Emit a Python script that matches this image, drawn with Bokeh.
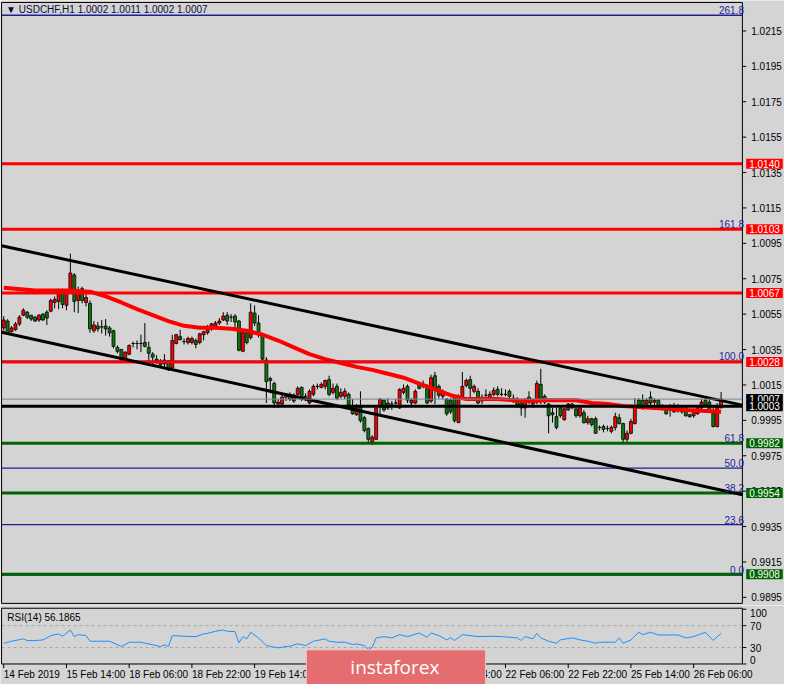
from bokeh.plotting import figure
from bokeh.models import Range1d, Label
from bokeh.layouts import column
from bokeh.embed import file_html
from bokeh.resources import INLINE
from bokeh.core.properties import value

# ---------------- data (USDCHF H1) ----------------
opens = [
1.00472, 1.00511, 1.00451, 1.00462, 1.00495, 1.00544, 1.00561, 1.00544, 1.00533, 1.00517,
1.00550, 1.00561, 1.00567, 1.00616, 1.00622, 1.00683, 1.00600, 1.00677, 1.00771, 1.00627,
1.00694, 1.00616, 1.00611, 1.00456, 1.00483, 1.00478, 1.00483, 1.00472, 1.00456, 1.00362,
1.00351, 1.00296, 1.00324, 1.00384, 1.00384, 1.00384, 1.00390, 1.00362, 1.00324, 1.00296,
1.00285, 1.00291, 1.00285, 1.00246, 1.00384, 1.00423, 1.00395, 1.00390, 1.00390, 1.00401,
1.00390, 1.00434, 1.00445, 1.00467, 1.00483, 1.00500, 1.00517, 1.00544, 1.00533, 1.00539,
1.00511, 1.00340, 1.00445, 1.00418, 1.00556, 1.00500, 1.00434, 1.00291, 1.00186, 1.00158,
1.00042, 1.00042, 1.00081, 1.00097, 1.00059, 1.00097, 1.00136, 1.00086, 1.00048, 1.00097,
1.00142, 1.00136, 1.00142, 1.00180, 1.00108, 1.00142, 1.00086, 1.00086, 1.00097, 1.00031,
0.99982, 1.00026, 0.99965, 0.99904, 0.99827, 0.99843, 1.00026, 1.00064, 1.00048, 1.00042,
1.00048, 1.00020, 1.00108, 1.00142, 1.00048, 1.00048, 1.00153, 1.00142, 1.00131, 1.00059,
1.00202, 1.00142, 1.00086, 1.00070, 1.00064, 1.00075, 0.99937, 1.00086, 1.00147, 1.00180,
1.00114, 1.00114, 1.00059, 1.00092, 1.00075, 1.00097, 1.00125, 1.00097, 1.00097, 1.00114,
1.00075, 1.00070, 1.00048, 1.00020, 1.00081, 1.00042, 1.00053, 1.00153, 1.00086, 1.00042,
0.99993, 0.99971, 1.00020, 0.99954, 1.00009, 1.00042, 1.00015, 0.99976, 0.99993, 0.99937,
0.99959, 0.99959, 0.99910, 0.99915, 0.99904, 0.99888, 0.99910, 0.99965, 0.99932, 0.99843,
0.99877, 0.99932, 1.00064, 1.00064, 1.00042, 1.00081, 1.00053, 1.00064, 1.00026, 1.00020,
1.00026, 0.99998, 1.00004, 1.00020, 1.00020, 0.99982, 0.99976, 0.99987, 1.00020, 1.00064,
1.00053, 0.99993, 0.99915, 1.00020]
highs = [
1.00539, 1.00522, 1.00483, 1.00506, 1.00544, 1.00583, 1.00567, 1.00544, 1.00539, 1.00550,
1.00556, 1.00572, 1.00638, 1.00650, 1.00694, 1.00694, 1.00683, 1.00892, 1.00782, 1.00705,
1.00705, 1.00666, 1.00627, 1.00511, 1.00506, 1.00517, 1.00522, 1.00483, 1.00462, 1.00373,
1.00351, 1.00340, 1.00379, 1.00395, 1.00401, 1.00434, 1.00500, 1.00395, 1.00335, 1.00318,
1.00296, 1.00324, 1.00291, 1.00434, 1.00439, 1.00462, 1.00412, 1.00423, 1.00423, 1.00412,
1.00445, 1.00456, 1.00489, 1.00500, 1.00511, 1.00528, 1.00561, 1.00561, 1.00550, 1.00550,
1.00517, 1.00456, 1.00462, 1.00611, 1.00600, 1.00544, 1.00445, 1.00307, 1.00197, 1.00169,
1.00070, 1.00097, 1.00103, 1.00108, 1.00103, 1.00142, 1.00142, 1.00103, 1.00125, 1.00153,
1.00158, 1.00164, 1.00180, 1.00202, 1.00158, 1.00158, 1.00131, 1.00131, 1.00108, 1.00070,
1.00042, 1.00114, 0.99976, 0.99910, 0.99866, 1.00031, 1.00075, 1.00070, 1.00075, 1.00059,
1.00070, 1.00131, 1.00153, 1.00153, 1.00075, 1.00125, 1.00164, 1.00175, 1.00153, 1.00208,
1.00224, 1.00153, 1.00125, 1.00075, 1.00075, 1.00086, 1.00097, 1.00224, 1.00186, 1.00202,
1.00153, 1.00131, 1.00097, 1.00125, 1.00114, 1.00136, 1.00142, 1.00131, 1.00125, 1.00125,
1.00097, 1.00081, 1.00070, 1.00075, 1.00114, 1.00075, 1.00175, 1.00241, 1.00097, 1.00048,
1.00020, 1.00020, 1.00031, 1.00020, 1.00048, 1.00048, 1.00026, 1.00026, 1.00009, 0.99976,
0.99965, 0.99971, 0.99921, 0.99926, 0.99921, 0.99921, 0.99993, 0.99987, 0.99937, 0.99893,
0.99959, 1.00075, 1.00075, 1.00097, 1.00075, 1.00114, 1.00075, 1.00070, 1.00042, 1.00031,
1.00042, 1.00048, 1.00042, 1.00031, 1.00026, 0.99987, 1.00015, 1.00026, 1.00070, 1.00081,
1.00070, 1.00026, 1.00048, 1.00110]
lows = [
1.00456, 1.00440, 1.00445, 1.00456, 1.00483, 1.00539, 1.00522, 1.00511, 1.00506, 1.00506,
1.00511, 1.00489, 1.00561, 1.00583, 1.00578, 1.00583, 1.00572, 1.00666, 1.00561, 1.00556,
1.00611, 1.00594, 1.00445, 1.00445, 1.00451, 1.00440, 1.00429, 1.00423, 1.00357, 1.00329,
1.00280, 1.00291, 1.00318, 1.00362, 1.00351, 1.00335, 1.00362, 1.00280, 1.00269, 1.00269,
1.00252, 1.00241, 1.00229, 1.00235, 1.00379, 1.00401, 1.00379, 1.00379, 1.00379, 1.00357,
1.00379, 1.00401, 1.00434, 1.00456, 1.00467, 1.00489, 1.00511, 1.00489, 1.00506, 1.00467,
1.00340, 1.00335, 1.00379, 1.00406, 1.00483, 1.00418, 1.00280, 1.00048, 1.00103, 1.00020,
1.00020, 1.00037, 1.00059, 1.00059, 1.00048, 1.00075, 1.00059, 1.00059, 1.00042, 1.00086,
1.00125, 1.00131, 1.00125, 1.00086, 1.00097, 1.00064, 1.00075, 1.00070, 1.00026, 0.99982,
0.99976, 0.99937, 0.99882, 0.99827, 0.99810, 0.99838, 0.99987, 0.99998, 1.00009, 1.00009,
1.00020, 1.00015, 1.00097, 1.00048, 1.00037, 1.00042, 1.00125, 1.00131, 1.00042, 1.00048,
1.00042, 1.00075, 1.00070, 0.99976, 0.99987, 0.99937, 0.99937, 1.00075, 1.00136, 1.00075,
1.00103, 1.00042, 1.00042, 1.00075, 1.00059, 1.00086, 1.00086, 1.00086, 1.00086, 1.00075,
1.00048, 1.00020, 0.99976, 0.99965, 1.00042, 1.00020, 1.00042, 1.00042, 1.00042, 0.99877,
0.99937, 0.99899, 0.99965, 0.99948, 1.00004, 1.00015, 0.99965, 0.99965, 0.99932, 0.99926,
0.99915, 0.99877, 0.99893, 0.99882, 0.99888, 0.99877, 0.99893, 0.99926, 0.99822, 0.99822,
0.99871, 0.99926, 1.00015, 1.00009, 1.00031, 1.00031, 1.00037, 1.00015, 1.00004, 0.99982,
0.99971, 0.99993, 0.99993, 0.99987, 0.99971, 0.99965, 0.99965, 0.99982, 1.00009, 1.00026,
0.99993, 0.99910, 0.99910, 1.00020]
closes = [
1.00517, 1.00445, 1.00472, 1.00495, 1.00533, 1.00572, 1.00533, 1.00522, 1.00511, 1.00544,
1.00517, 1.00528, 1.00627, 1.00633, 1.00672, 1.00605, 1.00672, 1.00782, 1.00622, 1.00677,
1.00627, 1.00644, 1.00467, 1.00489, 1.00467, 1.00478, 1.00467, 1.00445, 1.00368, 1.00340,
1.00291, 1.00335, 1.00373, 1.00384, 1.00384, 1.00384, 1.00368, 1.00329, 1.00307, 1.00285,
1.00263, 1.00269, 1.00235, 1.00401, 1.00434, 1.00406, 1.00395, 1.00412, 1.00412, 1.00379,
1.00439, 1.00451, 1.00473, 1.00495, 1.00500, 1.00511, 1.00539, 1.00511, 1.00533, 1.00506,
1.00346, 1.00445, 1.00390, 1.00561, 1.00500, 1.00434, 1.00296, 1.00169, 1.00175, 1.00048,
1.00053, 1.00081, 1.00097, 1.00070, 1.00092, 1.00131, 1.00075, 1.00086, 1.00114, 1.00142,
1.00142, 1.00153, 1.00175, 1.00097, 1.00131, 1.00075, 1.00108, 1.00114, 1.00037, 0.99987,
1.00020, 0.99948, 0.99893, 0.99843, 0.99855, 1.00020, 1.00070, 1.00009, 1.00020, 1.00042,
1.00048, 1.00125, 1.00131, 1.00064, 1.00064, 1.00114, 1.00131, 1.00153, 1.00048, 1.00191,
1.00125, 1.00092, 1.00103, 0.99987, 0.99998, 0.99948, 1.00081, 1.00142, 1.00175, 1.00131,
1.00142, 1.00048, 1.00081, 1.00092, 1.00097, 1.00120, 1.00097, 1.00097, 1.00097, 1.00086,
1.00064, 1.00037, 1.00020, 1.00070, 1.00053, 1.00059, 1.00158, 1.00075, 1.00053, 0.99976,
0.99982, 0.99910, 0.99976, 1.00015, 1.00042, 1.00020, 0.99976, 1.00020, 0.99937, 0.99959,
0.99926, 0.99877, 0.99910, 0.99899, 0.99904, 0.99910, 0.99971, 0.99932, 0.99843, 0.99877,
0.99943, 1.00031, 1.00037, 1.00020, 1.00064, 1.00048, 1.00064, 1.00020, 1.00015, 0.99987,
1.00009, 1.00026, 1.00020, 0.99998, 0.99976, 0.99971, 1.00004, 1.00020, 1.00053, 1.00037,
1.00004, 0.99915, 1.00026, 1.00070]

# moving average (red) read at selected bars
ma_idx = [0, 8, 16, 22, 26, 30, 34, 38, 42, 46, 50, 54, 58, 62, 66, 70, 74, 78, 82, 86, 90,
          94, 98, 102, 106, 110, 114, 118, 122, 126, 130, 134, 138, 142, 146, 150, 154, 158,
          162, 166, 170, 174, 178, 183]
ma_vals = [1.00699, 1.00683, 1.00683, 1.00677, 1.00650, 1.00616, 1.00578, 1.00545, 1.00511,
           1.00484, 1.00473, 1.00473, 1.00467, 1.00456, 1.00434, 1.00401, 1.00362, 1.00324,
           1.00296, 1.00274, 1.00252, 1.00235, 1.00213, 1.00191, 1.00158, 1.00125, 1.00092,
           1.00070, 1.00070, 1.00070, 1.00064, 1.00059, 1.00064, 1.00064, 1.00064, 1.00048,
           1.00042, 1.00031, 1.00026, 1.00020, 1.00015, 1.00009, 1.00004, 0.99998]

# RSI(14) read at selected bars
rsi_idx = [0, 1, 2, 5, 6, 8, 10, 12, 14, 15, 17, 18, 19, 21, 22, 24, 27, 30, 32, 35, 37, 40,
           41, 42, 43, 46, 49, 51, 52, 54, 56, 57, 59, 60, 61, 62, 63, 65, 67, 70, 72, 73, 75,
           77, 79, 82, 83, 85, 87, 89, 90, 92, 93, 94, 95, 97, 99, 101, 103, 106, 108, 109,
           111, 113, 114, 115, 117, 121, 124, 127, 131, 132, 133, 135, 136, 137, 139, 141,
           142, 145, 147, 149, 151, 152, 156, 157, 158, 160, 162, 163, 165, 167, 170, 172,
           174, 176, 179, 181, 183]
rsi_vals = [37.9, 39.7, 41.5, 45.8, 42.7, 42.7, 43.9, 51.8, 54.8, 50.6, 62.1, 50.0, 53.6, 51.8,
            41.5, 41.5, 41.5, 31.8, 39.7, 39.7, 36.7, 31.8, 34.8, 31.8, 51.8, 50.6, 50.0, 54.8,
            56.0, 59.7, 62.1, 59.7, 59.1, 38.5, 50.0, 45.8, 57.9, 47.6, 33.6, 29.4, 31.8, 32.4,
            36.7, 33.6, 41.5, 45.8, 41.5, 39.7, 39.7, 35.5, 36.7, 33.6, 26.4, 30.6, 47.6, 50.0,
            47.6, 53.6, 50.0, 56.6, 48.8, 56.6, 51.8, 44.0, 47.7, 42.9, 53.6, 50.0, 50.6, 50.0,
            47.6, 42.9, 50.0, 45.8, 55.9, 47.6, 41.5, 37.9, 44.0, 47.6, 44.0, 41.5, 37.9, 39.7,
            39.7, 47.6, 37.9, 44.0, 57.9, 53.6, 57.9, 53.0, 53.0, 53.0, 47.6, 50.0, 57.9, 42.9,
            56.1865]

# horizontal levels
red_levels = [1.0140, 1.0103, 1.0067, 1.0028]
green_levels = [0.9982, 0.9954, 0.9908]
black_level = 1.0003

# Fibonacci retracement anchors and ratios
fib_low, fib_high = 0.99076, 1.00284
fib_ratios = [0.0, 23.6, 38.2, 50.0, 61.8, 100.0, 161.8, 261.8]

# channel anchors (bar index, price)
upper_channel = [(0, 1.00934), (183, 1.00062)]
lower_channel = [(0, 1.00445), (183, 0.99556)]

price_ticks = [0.9895, 0.9915, 0.9935, 0.9955, 0.9975, 0.9995, 1.0015, 1.0035, 1.0055,
               1.0075, 1.0095, 1.0115, 1.0135, 1.0155, 1.0175, 1.0195, 1.0215]
rsi_ticks = [0, 30, 70, 100]
rsi_levels = [30, 70]
date_tick_idx = [0, 16, 32, 48, 64, 80, 96, 112, 128, 144, 160, 176]
date_labels = ["14 Feb 2019", "15 Feb 14:00", "18 Feb 06:00", "18 Feb 22:00", "19 Feb 14:00",
               "20 Feb 06:00", "20 Feb 22:00", "21 Feb 14:00", "22 Feb 06:00", "22 Feb 22:00",
               "25 Feb 14:00", "26 Feb 06:00"]

# ---------------- styling / panel geometry (in data units) ----------------
BG = "#d4d4d4"
FONT = "Liberation Sans"
BULL = "#ff0000"
BEAR = "#0b7a0b"
RED = "#ff0000"
GREEN = "#006400"
NAVY = "#1f1f96"
FS = value("10px")
FF = value(FONT)

X_MIN, X_MAX = -0.825, 199.175      # full canvas width in bars
PL, PR = -0.55, 188.43              # plot area left edge / price-axis line
P_TOP, P_BOT = 1.02311, 0.98916     # main panel borders (price)
R_TOP, R_BOT = 101.8, 0.0           # RSI panel borders
TICK_LEN = 1.0
LABEL_X = 190.7
BOX_X = 189.4

xr = Range1d(X_MIN, X_MAX)


def base_fig(height, yr):
    f = figure(width=784, height=height, x_range=xr, y_range=yr, output_backend="svg",
               toolbar_location=None, x_axis_location=None, y_axis_location=None,
               min_border_left=0, min_border_right=0, min_border_top=0, min_border_bottom=0,
               background_fill_color=BG, border_fill_color=BG, outline_line_color=None)
    f.xgrid.visible = False
    f.ygrid.visible = False
    return f


def hline(f, y, color, width, dash="solid"):
    f.segment(x0=[PL], y0=[y], x1=[PR], y1=[y], line_color=color, line_width=width,
              line_dash=dash)


def box(f, top, bot):
    f.segment(x0=[PL, PL, PL, PR], y0=[top, bot, bot, bot], x1=[PR, PR, PL, PR],
              y1=[top, bot, top, top], line_color="black", line_width=1)


# ================= main price panel =================
p = base_fig(605, Range1d(0.98904, 1.02322))

idx = list(range(len(closes)))
tops = [max(o, c) for o, c in zip(opens, closes)]
bots = [min(o, c) for o, c in zip(opens, closes)]
cols = [BULL if c >= o else BEAR for o, c in zip(opens, closes)]
p.segment(x0=idx, y0=lows, x1=idx, y1=highs, line_color="black", line_width=1)
p.vbar(x=idx, top=tops, bottom=bots, width=0.75, fill_color=cols, line_color="black",
       line_width=0.8)

p.line(ma_idx, ma_vals, line_color=RED, line_width=4)

fib_prices = [fib_low + r_ / 100.0 * (fib_high - fib_low) for r_ in fib_ratios]
for fp in fib_prices:
    hline(p, fp, NAVY, 1.3)
for lv in red_levels:
    hline(p, lv, RED, 3)
for lv in green_levels:
    hline(p, lv, GREEN, 3)

for (i0, p0), (i1, p1) in (upper_channel, lower_channel):
    g = (p1 - p0) / (i1 - i0)
    p.segment(x0=[PL], y0=[p0 + g * (PL - i0)], x1=[PR], y1=[p0 + g * (PR - i0)],
              line_color="black", line_width=3)

hline(p, closes[-1], "#778899", 1)
hline(p, black_level, "black", 3)

box(p, P_TOP, P_BOT)

# price axis: ticks + labels
p.segment(x0=[PR] * len(price_ticks), y0=price_ticks, x1=[PR + TICK_LEN] * len(price_ticks),
          y1=price_ticks, line_color="black", line_width=1)
p.text(x=[LABEL_X] * len(price_ticks), y=price_ticks,
       text=[f"{t:.4f}" for t in price_ticks], text_font=FF, text_font_size=FS,
       text_color="black", text_align="left", text_baseline="middle")

# fib texts
for r_, fp in zip(fib_ratios, fib_prices):
    p.add_layout(Label(x=PR + 0.4, y=fp, text=f"{r_:.1f}", text_align="right",
                       text_baseline="bottom", text_color=NAVY, text_font=FONT,
                       text_font_size="10px", y_offset=1))


def price_box(lv, color):
    p.add_layout(Label(x=BOX_X, y=lv, text=f"{lv:.4f}", text_align="left",
                       text_baseline="middle", text_color="white", text_font=FONT,
                       text_font_size="10px", background_fill_color=color,
                       padding=dict(left=3, right=3, top=1, bottom=1)))


for lv in red_levels:
    price_box(lv, RED)
for lv in green_levels:
    price_box(lv, GREEN)
price_box(closes[-1], "black")
price_box(black_level, "black")

title = "\u25BC USDCHF,H1  {:.4f} {:.4f} {:.4f} {:.4f}".format(opens[-1], highs[-1],
                                                              lows[-1], closes[-1])
p.add_layout(Label(x=0.6, y=1.02300, text=title, text_baseline="top", text_align="left",
                   text_color="#0a0a3c", text_font=FONT, text_font_size="10px"))

# ================= RSI panel =================
r = base_fig(79, Range1d(-37.5, 106.8))

for lv in rsi_levels:
    hline(r, lv, "#a8a8a8", 1, "3 3")
r.line(rsi_idx, rsi_vals, line_color="#1e90ff", line_width=1)
box(r, R_TOP, R_BOT)

r.segment(x0=[PR] * len(rsi_ticks), y0=rsi_ticks, x1=[PR + TICK_LEN] * len(rsi_ticks),
          y1=rsi_ticks, line_color="black", line_width=1)
mid_ticks = [t for t in rsi_ticks if 0 < t < 100]
r.text(x=[LABEL_X - 0.3] * len(mid_ticks), y=mid_ticks, text=[str(t) for t in mid_ticks],
       text_font=FF, text_font_size=FS, text_align="left", text_baseline="middle")
r.text(x=[LABEL_X - 0.3], y=[max(rsi_ticks)], text=[str(max(rsi_ticks))], text_font=FF,
       text_font_size=FS, text_align="left", text_baseline="top")
r.text(x=[LABEL_X - 0.3], y=[min(rsi_ticks)], text=[str(min(rsi_ticks))], text_font=FF,
       text_font_size=FS, text_align="left", text_baseline="bottom")

# time axis
r.segment(x0=date_tick_idx, y0=[R_BOT] * len(date_tick_idx), x1=date_tick_idx,
          y1=[R_BOT - 7.5] * len(date_tick_idx), line_color="black", line_width=1)
r.text(x=date_tick_idx, y=[R_BOT - 19.0] * len(date_tick_idx), text=date_labels,
       text_font=FF, text_font_size=FS, text_color="black", text_align="left",
       text_baseline="middle")

r.add_layout(Label(x=0.9, y=85.7, text=f"RSI(14) {rsi_vals[-1]:.4f}", text_baseline="middle",
                   text_align="left", text_color="black", text_font=FONT,
                   text_font_size="10px"))

# watermark
r.add_layout(Label(x=77.2, y=-9.0, text="instaforex", text_baseline="middle",
                   text_align="left", text_color="white", text_font="Open Sans",
                   text_font_size="19px", background_fill_color="#e46d6f",
                   border_line_color="#f4c0c0", border_line_width=1,
                   padding=dict(left=44, right=46, top=4, bottom=8)))

layout = column(p, r, spacing=0)
open("out.html", "w").write(file_html(layout, INLINE))
